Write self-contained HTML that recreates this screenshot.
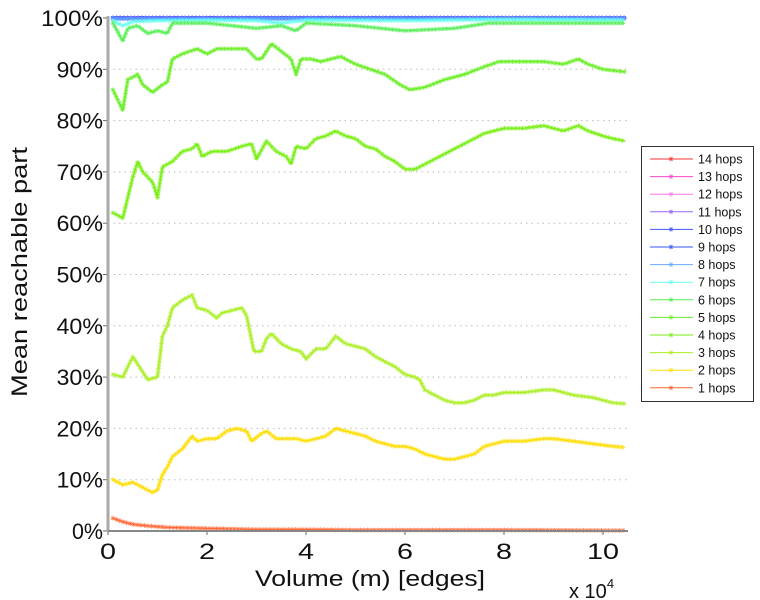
<!DOCTYPE html>
<html><head><meta charset="utf-8"><style>
body{margin:0;background:#fff;}
svg{display:block;font-family:"Liberation Sans",sans-serif;}
</style></head><body>
<svg id="chart" width="760" height="600" viewBox="0 0 760 600">
<g id="grid"></g>
<g id="series"></g>
<g id="axes"></g>
<text transform="translate(27,272) rotate(-90)" text-anchor="middle" font-size="22" textLength="250" lengthAdjust="spacingAndGlyphs" fill="#111">Mean reachable part</text>
<text x="370" y="586" text-anchor="middle" font-size="22" textLength="230" lengthAdjust="spacingAndGlyphs" fill="#111">Volume (m) [edges]</text>
<text x="569" y="598" font-size="20" fill="#111">x 10<tspan dy="-10" font-size="13">4</tspan></text>
<g id="legend"></g>
</svg>
<script>
const xTicks=[0,2,4,6,8,10];
const yTicks=[0,10,20,30,40,50,60,70,80,90,100];
const seriesNames=["14 hops","13 hops","12 hops","11 hops","10 hops","9 hops","8 hops","7 hops","6 hops","5 hops","4 hops","3 hops","2 hops","1 hops"];
const seriesColors=["#ff3333","#ff44cc","#ff77ee","#9966ff","#4455ff","#3355ff","#66aaff","#66ffee","#55ee55","#66ee22","#77ee11","#aaee22","#ffdd00","#ff6633"];
const x1=[0.1,0.3,0.5,0.8,1.2,2,3,4,5,6,8,10.45];
const y1=[2.5,1.8,1.3,1.0,0.7,0.5,0.3,0.3,0.2,0.2,0.2,0.1];
const x2=[0.1,0.3,0.5,0.7,0.9,1.0,1.1,1.2,1.3,1.5,1.7,1.8,2.0,2.2,2.4,2.6,2.8,2.9,3.1,3.2,3.4,3.6,3.8,4.0,4.2,4.4,4.6,4.8,5.0,5.2,5.4,5.6,5.8,6.0,6.2,6.4,6.6,6.8,7.0,7.2,7.4,7.6,7.8,8.0,8.4,8.8,9.0,9.4,9.8,10.2,10.45];
const y2=[10,9,9.5,8.5,7.5,8,11,12.5,14.5,16,18.5,17.5,18,18,19.5,20,19.5,17.5,19,19.5,18,18,18,17.5,18,18.5,20,19.5,19,18.5,17.5,17,16.5,16.5,16,15,14.5,14,14,14.5,15,16.5,17,17.5,17.5,18,18,17.5,17,16.5,16.3];
const x3=[0.1,0.3,0.5,0.7,0.8,1.0,1.1,1.2,1.3,1.5,1.7,1.8,2.0,2.2,2.3,2.5,2.7,2.8,2.95,3.1,3.2,3.3,3.5,3.7,3.9,4.0,4.2,4.4,4.6,4.8,5.0,5.2,5.4,5.6,5.8,6.0,6.2,6.3,6.4,6.6,6.8,7.0,7.2,7.4,7.6,7.8,8.0,8.4,8.8,9.0,9.4,9.8,10.2,10.45];
const y3=[30.5,30,34,31,29.5,30,38,40,43.5,45,46,43.5,43,41.5,42.5,43,43.5,42,35,35,37.5,38.5,36.5,35.5,35,33.5,35.5,35.5,38,36.5,36,35.5,34,33,32,30.5,30,29.5,27.5,26.5,25.5,25,25,25.5,26.5,26.5,27,27,27.5,27.5,26.5,26,25,24.8];
const x4=[0.1,0.3,0.5,0.6,0.7,0.9,1.0,1.1,1.3,1.5,1.7,1.8,1.9,2.1,2.4,2.7,2.9,3.0,3.2,3.4,3.6,3.7,3.8,4.0,4.2,4.4,4.6,4.8,5.0,5.2,5.4,5.6,5.8,6.0,6.2,6.4,6.6,6.8,7.0,7.2,7.4,7.6,7.8,8.0,8.4,8.8,9.0,9.2,9.5,9.7,10.0,10.2,10.45];
const y4=[62,61,69,72,70,68,65,71,72,74,74.5,75.5,73,74,74,75,75.5,72.5,76,74,73,71.5,75,74.5,76.5,77,78,77,76.5,75,74.5,73,72,70.5,70.5,71.5,72.5,73.5,74.5,75.5,76.5,77.5,78,78.5,78.5,79,78.5,78,79,78,77,76.5,76];
const x5=[0.1,0.3,0.4,0.6,0.7,0.9,1.1,1.2,1.3,1.5,1.8,2.0,2.2,2.5,2.8,3.0,3.1,3.3,3.5,3.7,3.8,3.9,4.1,4.3,4.5,4.7,5.0,5.3,5.6,5.9,6.1,6.4,6.8,7.2,7.6,7.9,8.4,8.8,9.2,9.5,9.7,10.0,10.45];
const y5=[86,82,88,89,87,85.5,87,87.5,92,93,94,93,94,94,94,92,92,95,93.5,92,89,92,92,91.5,92,92.5,91,90,89,87,86,86.5,88,89,90.5,91.5,91.5,91.5,91,92,91,90,89.5];
const x6=[0.1,0.3,0.4,0.6,0.8,1.0,1.2,1.3,2.0,2.5,3.0,3.5,3.8,4.0,5.0,6.0,7.0,7.7,8.0,10.45];
const y6=[99,95.5,98,98.5,97,97.5,97,99,99,98.5,98,98.5,97.5,99,98.5,97.5,98,99,99,99];
const x7=[0.1,0.3,0.5,1.0,2.0,3.0,3.5,4.0,6.0,8.0,10.45];
const y7=[99.5,98.5,99.3,99.5,99.6,99.5,99,99.6,99.5,99.7,99.6];
const xTop=[0.1,2,4,6,8,10.45];
const y8=[99.8,99.8,99.8,99.8,99.9,99.9];
const y9=[100,100,100,100,100,100];
const y10=[100,100,100,100,100,100];
const y11=[100,100,100,100,100,100];
const y12=[100,100,100,100,100,100];
const y13=[100,100,100,100,100,100];
const y14=[100,100,100,100,100,100];

const NS="http://www.w3.org/2000/svg";
const L=108,R=628,T=18,B=531;
function sx(v){return L+v*49.5;}
function sy(v){return B-(v/100)*(B-T);}
function mk(tag,attrs,parent){const e=document.createElementNS(NS,tag);for(const k in attrs)e.setAttribute(k,attrs[k]);parent.appendChild(e);return e;}
const grid=document.getElementById('grid'),axes=document.getElementById('axes'),sg=document.getElementById('series'),lg=document.getElementById('legend');
yTicks.forEach(t=>{
  if(t>0&&t<100){const g=mk('line',{x1:L,x2:R,y1:sy(t),y2:sy(t),stroke:'#bbb','stroke-dasharray':'1.5 4'},grid);
  
  }
  const s=t+'%';
  const tx=mk('text',{x:L-5,y:sy(t)+8,'text-anchor':'end','font-size':22,fill:'#111',textLength:s.length*15.5,lengthAdjust:'spacingAndGlyphs'},axes);
  tx.textContent=s;
  
  
  mk('line',{x1:L-5,x2:L,y1:sy(t),y2:sy(t),stroke:'#666'},axes);
});
xTicks.forEach(t=>{
  const s=String(t);
  const tx=mk('text',{x:sx(t),y:B+28,'text-anchor':'middle','font-size':22,fill:'#111',textLength:s.length*16,lengthAdjust:'spacingAndGlyphs'},axes);
  tx.textContent=s;
  
  
  mk('line',{x1:sx(t),x2:sx(t),y1:B,y2:B+4,stroke:'#666'},axes);
});
const ya=mk('line',{x1:L,x2:L,y1:T-2,y2:B+1,stroke:'#aaa','stroke-width':3},axes);


const xa=mk('line',{x1:L,x2:R,y1:B,y2:B,stroke:'#888','stroke-width':2},axes);



const xsList=[xTop,xTop,xTop,xTop,xTop,xTop,xTop,x7,x6,x5,x4,x3,x2,x1];
const ysList=[y14,y13,y12,y11,y10,y9,y8,y7,y6,y5,y4,y3,y2,y1];
function star(g,x,y,c){
  const r=2.4;
  mk('path',{d:`M${x-r},${y}H${x+r}M${x},${y-r}V${y+r}M${x-r*0.7},${y-r*0.7}L${x+r*0.7},${y+r*0.7}M${x-r*0.7},${y+r*0.7}L${x+r*0.7},${y-r*0.7}`,stroke:c,'stroke-width':0.8,fill:'none','stroke-opacity':0.85},g);
}
for(let i=0;i<seriesNames.length;i++){
  const g=mk('g',{},sg);
  
  
  const xs=xsList[i],ys=ysList[i];
  const d=xs.map((x,j)=>(j?'L':'M')+sx(x).toFixed(1)+','+sy(ys[j]).toFixed(1)).join('');
  const p=mk('path',{d:d,stroke:seriesColors[i],'stroke-width':1,fill:'none'},g);
  const len=p.getTotalLength();
  for(let s=0;s<=len;s+=3.6){const pt=p.getPointAtLength(s);star(g,pt.x,pt.y,seriesColors[i]);}
}
const box=mk('rect',{x:641.5,y:146.5,width:112,height:255,fill:'#fff',stroke:'#333','stroke-width':1},lg);


seriesNames.forEach((n,i)=>{
  const y=159+i*17.6;
  const g=mk('g',{},lg);
  
  
  mk('line',{x1:650,x2:693,y1:y,y2:y,stroke:seriesColors[i],'stroke-width':1},g);
  star(g,671,y,seriesColors[i]);
  const t=mk('text',{x:698,y:y+4.5,'font-size':12.5,fill:'#111'},g);
  t.textContent=n;
});
</script>
</body></html>
